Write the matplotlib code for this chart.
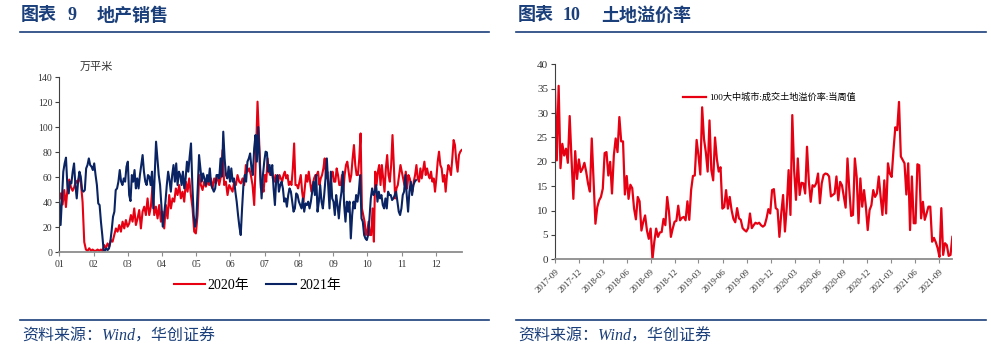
import numpy as np
import pandas as pd
import matplotlib
matplotlib.use("Agg")
import matplotlib.pyplot as plt
from matplotlib.lines import Line2D

plt.rcParams['font.family'] = ['Liberation Serif', 'Noto Sans CJK SC']
plt.rcParams['axes.unicode_minus'] = False

RED = '#e60012'
NAVY = '#0a2463'
HEAD = '#1a3f7a'

# ---------------- 图表 9 地产销售（万平米）----------------
month_labels = ['01', '02', '03', '04', '05', '06', '07', '08', '09', '10', '11', '12']

# 2020年，1月1日 - 6月下旬
sales_2020_a = [41.6, 47, 38, 49.6, 36, 52, 58, 52, 49, 52, 57, 55, 60, 55, 40, 8, 2, 1, 3, 1,
                2, 1, 1, 2, 1, 2, 1,
                5.6, 2.9, 6.9, 4.3, 9.6, 8.3, 13.6, 18.9, 16.3, 21.6,
                16.3, 24.3, 18.9, 25.6, 20.3, 22.9, 29.6, 24.3, 34.9, 21.6,
                26.9, 33.6, 18.9, 32.3, 36.3, 29.6, 42.9, 29.6, 36.3, 53.6,
                29.6, 36.3, 26.9, 37.6, 24.3, 32.3, 18.9, 37.6, 26.9, 45.6,
                34.9, 42.9, 40.3, 50.9, 45.6, 53.6, 42.9, 48.3, 40.3, 56.3,
                48.3, 58.9, 45.6, 34.9, 16.3, 14.9, 29.6, 61.6, 53.6, 49.6,
                56.3, 52.3, 56.3, 53.6, 58.9, 50.9, 58.9, 54.9, 61.6, 53.6,
                60.3, 81.6, 53.6, 56.3, 45.6, 53.6, 50.9, 48.3, 56.3, 53.6,
                61.6, 56.3, 54.9, 58.9, 53.6, 69.6, 64.3, 66.9, 61.6, 53.6,
                37.6, 74.9, 120.3]
# 2020年，6月下旬 - 12月下旬
sales_2020_b = [80.3, 50.9, 53.6, 48.3, 61.6, 56.3, 74.9, 64.3, 61.6, 66.9,
                58.9, 56.3, 61.6, 58.9, 56.3, 61.6, 58.9, 56.3, 61.6, 64.3,
                58.9, 61.6, 53.6, 56.3, 53.6, 66.9, 86.9, 53.6, 53.6, 50.9,
                56.3, 61.6, 48.3, 40.3, 50.9, 61.6, 56.3, 64.3, 56.3, 48.3,
                53.6, 58.9, 61.6, 61.6, 64.3, 53.6, 58.9, 61.6, 66.9, 74.9,
                58.9, 64.3, 53.6, 48.3, 61.6, 64.3, 56.3, 56.3, 66.9, 61.6,
                53.6, 53.6, 61.6, 48.3, 61.6, 69.6, 72.3, 64.3, 56.3, 61.6,
                74.9, 85.6, 69.6, 61.6, 61.6, 74.9, 94.9, 34.9, 29.6, 24.3,
                13.6, 16.3, 24.3, 13.6, 13.6, 34.9, 8.3, 64.3, 53.6, 64.3,
                69.6, 53.6, 69.6, 58.9, 48.3, 66.9, 77.6, 61.6, 56.3, 69.6,
                93.6, 69.6, 42.9, 50.9, 53.6, 61.6, 69.6, 64.3, 58.9, 53.6,
                64.3, 50.9, 61.6, 58.9, 53.6, 48.3, 56.3, 61.6, 69.6, 58.9,
                56.3, 66.9, 58.9, 65.6, 72.3, 61.6, 66.9, 61.6, 58.9, 64.3,
                56.3, 58.9, 48.3, 58.9, 72.3, 80.3, 69.6, 66.9, 56.3, 61.6,
                48.3, 61.6, 69.6, 66.9, 61.6, 74.9, 89.6, 85.6, 72.3, 64.3,
                77.6, 80.3, 81.6]

# 2021年，1月1日 - 6月下旬
sales_2021_a = [40.3, 21.6, 42.9, 64.3, 70.9, 75.5, 53.6, 46.9, 56.3, 54.9,
                64.3, 70.9, 53.6, 42.9, 56.3, 64.3, 60.3, 49.6, 48.3, 49.6,
                66.9, 69.6, 74.9, 69.6, 68.3, 65.6, 70.9, 61.6, 53.6, 38.9,
                37.6, 24.3, 13.6, 1.6, 1.1, 2.9, 1.6, 2.9, 8.3, 17.6,
                28.3, 32.3, 49.6, 50.9, 56.3, 65.6, 56.3, 53.6, 58.9, 56.3,
                68.3, 72.3, 45.6, 40.8, 61.6, 56.3, 65.6, 50.9, 58.9, 50.9,
                61.6, 69.6, 77.6, 64.3, 56.3, 53.6, 61.6, 60.3, 53.6, 64.3,
                34.9, 61.6, 88.3, 74.9, 61.6, 53.6, 37.6, 20.3, 29.6, 40.3,
                53.6, 64.3, 57.6, 48.3, 61.6, 69.6, 56.3, 70.9, 53.6, 64.3,
                61.6, 53.6, 64.3, 50.9, 58.9, 72.3, 64.3, 76.3, 86.9, 53.6,
                29.6, 20.3, 26.9, 50.9, 77.6, 66.9, 56.3, 62.9, 58.9, 53.6,
                61.6, 56.3, 66.9, 53.6, 50.9, 48.3, 50.9, 61.6, 61.6, 58.9,
                74.9, 60.3, 96.3, 74.9, 61.6, 58.9, 68.3, 56.3, 66.9, 56.3,
                58.9, 48.3, 40.3, 29.6, 20.3, 13.6, 34.9, 53.6, 61.6, 56.3,
                72.3, 74.9, 78.9, 66.9, 61.6, 82.9, 93.6, 72.3, 100.0]
# 2021年，6月下旬 - 11月中旬
sales_2021_b = [61.6, 42.9, 61.6, 72.3, 80.3, 79.7, 64.3, 69.6, 61.6, 69.6,
                50.9, 37.6, 58.9, 61.6, 48.3, 53.6, 56.3, 50.9, 40.3, 42.9,
                36.3, 45.6, 50.9, 48.3, 40.3, 32.3, 34.9, 46.9, 45.6, 40.3,
                37.6, 34.9, 42.9, 32.3, 38.9, 37.6, 40.3, 34.9, 40.3, 48.3,
                56.3, 45.6, 61.6, 32.3, 40.3, 53.6, 40.3, 34.9, 45.6, 58.9,
                74.9, 53.6, 34.9, 64.3, 42.9, 40.3, 29.6, 45.6, 37.6, 26.9,
                40.3, 48.3, 64.3, 37.6, 24.3, 40.3, 32.3, 40.3, 10.9, 29.6,
                40.3, 34.9, 45.6, 40.3, 48.3, 61.6, 26.9, 24.3, 13.6, 10.9,
                9.6, 13.6, 26.9, 42.9, 50.9, 45.6, 48.3, 53.6, 40.3, 48.3,
                42.9, 45.6, 37.6, 34.9, 42.9, 34.9, 48.3, 45.6, 45.6, 41.6,
                42.9, 45.6, 48.3, 40.3, 32.3, 29.6, 34.9, 45.6, 48.3, 61.6,
                45.6, 32.3, 48.3, 56.3, 45.6, 53.6, 56.3, 57.6]

# 位置：以月为单位（0 = 1月1日）
x20 = np.concatenate([np.linspace(0, 5.79, len(sales_2020_a)),
                      np.linspace(5.85, 11.75, len(sales_2020_b))])
x21 = np.concatenate([np.linspace(0, 5.81, len(sales_2021_a)),
                      np.linspace(5.87, 10.42, len(sales_2021_b))])
y20 = np.array(sales_2020_a + sales_2020_b)
y21 = np.array(sales_2021_a + sales_2021_b)

# ---------------- 图表 10 土地溢价率（%）----------------
premium = [35.0, 20.3, 35.6, 18.7, 23.7, 21.3, 22.7, 19.8, 29.4, 20.6,
           12.4, 22.2, 16.5, 20.5, 17.9, 18.6, 19.8, 17.9, 15.5, 13.9,
           24.8, 15.9, 7.3, 10.7, 12.1, 12.8, 14.5, 21.8, 22.0, 17.2,
           20.0, 13.5, 21.3, 24.8, 22.0, 29.2, 24.2, 24.2, 13.3, 17.1,
           12.4, 15.3, 14.6, 10.4, 8.2, 12.8, 11.9, 5.9, 7.7, 9.0,
           5.9, 4.2, 6.3, 0.0, 3.6, 6.3, 4.6, 5.5, 5.6, 8.3,
           7.0, 12.8, 9.7, 4.6, 6.3, 7.7, 7.9, 11.0, 8.0,
           8.5, 8.7, 8.0, 11.9, 8.1, 14.2, 17.1, 17.2, 24.5, 21.3,
           17.4, 31.2, 24.7, 22.0, 18.0, 28.5, 18.3, 16.2, 25.0, 20.6,
           18.0, 18.9, 10.4, 10.7, 14.2, 10.4, 12.8, 10.1, 8.3, 7.6,
           10.5, 8.4, 8.1, 6.4, 6.0, 5.7, 6.4, 9.4, 6.4, 7.0,
           7.5, 7.3, 7.5, 7.0, 6.7, 7.0, 8.4, 10.3, 9.4, 14.2,
           14.4, 10.5, 10.2, 4.6, 9.4, 13.2, 5.7, 10.8, 18.3, 9.1,
           29.6, 18.3, 12.2, 20.7, 13.2, 15.7, 15.6, 13.5, 23.1, 16.0,
           11.8, 15.2, 14.9, 15.6, 17.6, 11.5, 15.6, 17.3, 17.6, 17.5,
           17.0, 12.9, 13.2, 13.5, 17.0, 12.1, 15.9, 15.2, 12.9, 10.6,
           20.7, 14.2, 8.9, 9.1, 20.7, 16.9, 7.4, 16.6, 10.8, 14.2,
           10.8, 6.0, 10.1, 11.1, 14.2, 12.8, 13.5, 17.0, 12.9, 9.1,
           16.2, 9.4, 19.7, 17.6, 16.9, 22.4, 27.1, 26.5, 32.3, 21.1,
           20.4, 19.7, 13.3, 19.7, 6.0, 17.0, 7.4, 7.4, 19.5, 19.3,
           8.4, 11.8, 8.1, 9.4, 10.8, 10.8, 3.6, 4.4, 3.5, 2.3,
           0.5, 10.5, 0.9, 3.3, 2.9, 0.7, 0.9, 4.6]
weeks = pd.date_range('2017-09-01', periods=len(premium), freq='7D')
quarter_ticks = pd.date_range('2017-09-01', '2021-09-01', freq='3MS')

fig = plt.figure(figsize=(9.91, 3.55), dpi=100)


def style_axes(ax):
    for s in ('top', 'right'):
        ax.spines[s].set_visible(False)
    ax.spines['left'].set_color('#404040')
    ax.spines['left'].set_linewidth(0.8)
    ax.spines['bottom'].set_color('#8c8c8c')
    ax.spines['bottom'].set_linewidth(1.3)
    ax.tick_params(axis='y', direction='out', length=3, width=0.8, color='#404040',
                   labelcolor='#333333', pad=2)
    ax.tick_params(axis='x', direction='out', length=3, width=0.8, color='#8c8c8c',
                   labelcolor='#333333', pad=3)


# 左图
axL = fig.add_axes([0.0598, 0.290, 0.406, 0.493])
axL.plot(x20, y20, color=RED, lw=1.5, label='2020年')
axL.plot(x21, y21, color=NAVY, lw=1.5, label='2021年')
axL.set_xlim(0, 11.75)
axL.set_ylim(0, 140)
axL.set_yticks(range(0, 141, 20))
axL.set_xticks(range(12))
axL.set_xticklabels(month_labels)
style_axes(axL)
axL.tick_params(labelsize=7)
fig.text(80 / 991, 1 - 67 / 355, '万平米', fontsize=8, color='#333333', va='center')
fig.legend(*axL.get_legend_handles_labels(), loc='center', bbox_to_anchor=(0.260, 0.197),
           ncol=2, frameon=False, fontsize=10, handlelength=2.2, handletextpad=0.2,
           columnspacing=1.2, borderpad=0)

# 右图
axR = fig.add_axes([0.560, 0.2696, 0.401, 0.549])
axR.plot(weeks, premium, color=RED, lw=1.6, label='100大中城市:成交土地溢价率:当周值')
axR.set_xlim(weeks[0], weeks[-1])
axR.set_ylim(0, 40)
axR.set_yticks(range(0, 41, 5))
axR.set_xticks(quarter_ticks)
axR.set_xticklabels([d.strftime('%Y-%m') for d in quarter_ticks], rotation=45,
                    ha='right', rotation_mode='anchor')
style_axes(axR)
axR.tick_params(axis='y', labelsize=8)
axR.tick_params(axis='x', labelsize=6.5)
axR.legend(loc='center left', bbox_to_anchor=(0.322, 0.829), frameon=False, fontsize=6.6,
           handlelength=2.5, handletextpad=0.4, borderpad=0, borderaxespad=0)

# 标题、分隔线与资料来源
headers = [(20, 489, [(21, '图表'), (67, '9'), (97, '地产销售')]),
           (516, 986, [(518, '图表'), (563, '10'), (601, '土地溢价率')])]
for x0, x1, parts in headers:
    for px, txt in parts:
        fig.text(px / 991, 1 - 16 / 355, txt, fontsize=13, fontweight='bold',
                 color=HEAD, va='center')
    fig.add_artist(Line2D([x0 / 991, x1 / 991], [1 - 32.3 / 355] * 2, color=HEAD, lw=1.2))
    fig.add_artist(Line2D([x0 / 991, x1 / 991], [1 - 320.3 / 355] * 2, color=HEAD, lw=1.2))
    fig.text((x0 + 2) / 991, 1 - 337 / 355, '资料来源：Wind，华创证券', fontsize=11.5,
             style='italic', color=HEAD, va='center')

fig.savefig('out.png', dpi=100)
